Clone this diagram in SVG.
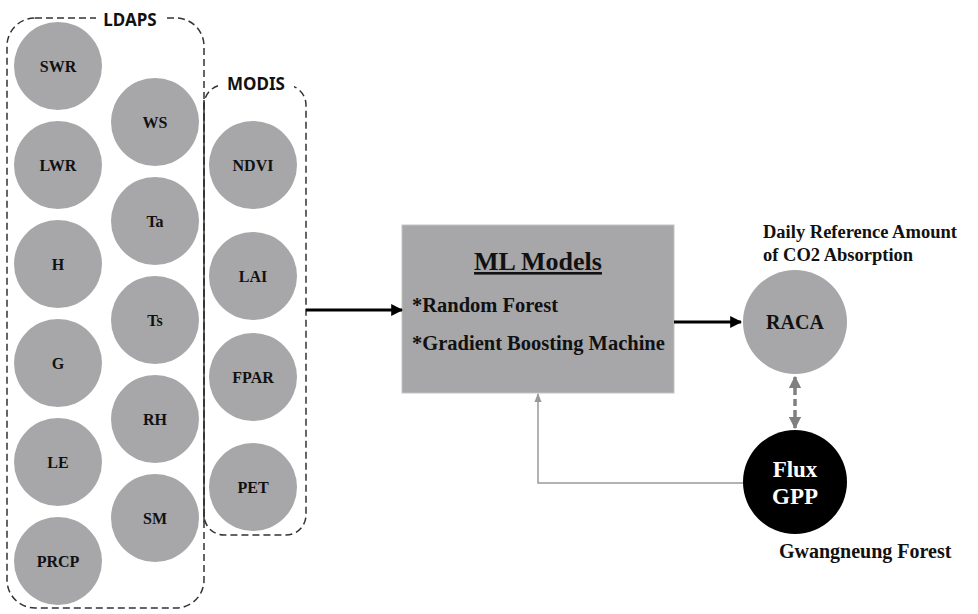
<svg xmlns="http://www.w3.org/2000/svg" width="978" height="614" viewBox="0 0 978 614">
<style>
.c{fill:#a7a6a8}
.ct{font-family:"Liberation Serif",serif;font-weight:bold;font-size:16px;fill:#111;text-anchor:middle}
.grp{fill:none;stroke:#333;stroke-width:1.5;stroke-dasharray:7 4}
.gl{font-family:"Noto Sans","Open Sans",sans-serif;font-weight:bold;font-size:17px;fill:#111;text-anchor:middle}
.st{font-family:"Liberation Serif",serif;font-weight:bold;fill:#111}
</style>
<defs>
<marker id="ab" viewBox="0 0 10 10" refX="9" refY="5" markerWidth="4" markerHeight="4" orient="auto"><path d="M0,0L10,5L0,10z" fill="#000"/></marker>
<marker id="ag" viewBox="0 0 10 10" refX="9" refY="5" markerWidth="6" markerHeight="6" orient="auto"><path d="M0,1L10,5L0,9z" fill="#999"/></marker>
<marker id="ad" viewBox="0 0 10 10" refX="9" refY="5" markerWidth="3.5" markerHeight="3.5" orient="auto-start-reverse"><path d="M0,0L10,5L0,10z" fill="#808080"/></marker>
</defs>
<rect width="978" height="614" fill="#fff"/>
<g id="ldaps">
<rect class="grp" x="7" y="18" width="197" height="590" rx="28"/>
<rect x="96" y="8" width="68" height="22" fill="#fff"/>
<text class="gl" x="130" y="26">LDAPS</text>
</g>
<g id="modis">
<rect class="grp" x="204" y="85" width="102" height="450" rx="20"/>
<line x1="204" y1="100" x2="204" y2="522" stroke="#333" stroke-width="1.5"/>
<rect x="218" y="74" width="76" height="22" fill="#fff"/>
<text class="gl" x="256" y="90">MODIS</text>
</g>
<g id="SWR"><circle class="c" cx="58" cy="66" r="44"/><text class="ct" x="58" y="72">SWR</text></g>
<g id="LWR"><circle class="c" cx="58" cy="165" r="44"/><text class="ct" x="58" y="171">LWR</text></g>
<g id="H"><circle class="c" cx="58" cy="264" r="44"/><text class="ct" x="58" y="270">H</text></g>
<g id="G"><circle class="c" cx="58" cy="363" r="44"/><text class="ct" x="58" y="369">G</text></g>
<g id="LE"><circle class="c" cx="58" cy="462" r="44"/><text class="ct" x="58" y="468">LE</text></g>
<g id="PRCP"><circle class="c" cx="58" cy="561" r="44"/><text class="ct" x="58" y="567">PRCP</text></g>
<g id="WS"><circle class="c" cx="155" cy="122" r="44"/><text class="ct" x="155" y="128">WS</text></g>
<g id="Ta"><circle class="c" cx="155" cy="221" r="44"/><text class="ct" x="155" y="227">Ta</text></g>
<g id="Ts"><circle class="c" cx="155" cy="320" r="44"/><text class="ct" x="155" y="326">Ts</text></g>
<g id="RH"><circle class="c" cx="155" cy="419" r="44"/><text class="ct" x="155" y="425">RH</text></g>
<g id="SM"><circle class="c" cx="155" cy="518" r="44"/><text class="ct" x="155" y="524">SM</text></g>
<g id="NDVI"><circle class="c" cx="253" cy="165" r="44"/><text class="ct" x="253" y="171">NDVI</text></g>
<g id="LAI"><circle class="c" cx="253" cy="276" r="44"/><text class="ct" x="253" y="282">LAI</text></g>
<g id="FPAR"><circle class="c" cx="253" cy="377" r="44"/><text class="ct" x="253" y="383">FPAR</text></g>
<g id="PET"><circle class="c" cx="253" cy="487" r="44"/><text class="ct" x="253" y="493">PET</text></g>
<g id="ml">
<rect x="402" y="225" width="272" height="168" fill="#a7a6a8" stroke="#c4c4c4" stroke-width="1"/>
<text class="st" x="538" y="270" font-size="26" text-anchor="middle" text-decoration="underline">ML Models</text>
<text class="st" x="412" y="312" font-size="20.5">*Random Forest</text>
<text class="st" x="412" y="350" font-size="20.5">*Gradient Boosting Machine</text>
</g>
<g id="raca">
<circle class="c" cx="795" cy="322" r="52"/>
<text class="st" x="795" y="329" font-size="20" text-anchor="middle">RACA</text>
<text class="st" x="763" y="238" font-size="18.5">Daily Reference Amount</text>
<text class="st" x="763" y="261" font-size="18.5">of CO2 Absorption</text>
</g>
<g id="flux">
<circle cx="795" cy="482" r="52" fill="#000"/>
<text class="st" x="795" y="477" font-size="23" text-anchor="middle" fill="#fff" style="fill:#fff">Flux</text>
<text class="st" x="795" y="504" font-size="23" text-anchor="middle" style="fill:#fff">GPP</text>
<text class="st" x="779" y="558" font-size="20">Gwangneung Forest</text>
</g>
<g id="connectors">
<line x1="306" y1="310" x2="402" y2="310" stroke="#000" stroke-width="3" marker-end="url(#ab)"/>
<line x1="674" y1="322" x2="741" y2="322" stroke="#000" stroke-width="3" marker-end="url(#ab)"/>
<line x1="795" y1="377" x2="795" y2="428" stroke="#808080" stroke-width="3.5" stroke-dasharray="7 4" marker-start="url(#ad)" marker-end="url(#ad)"/>
<polyline points="743,483 538,483 538,394" fill="none" stroke="#999" stroke-width="1.5" marker-end="url(#ag)"/>
</g>
</svg>
